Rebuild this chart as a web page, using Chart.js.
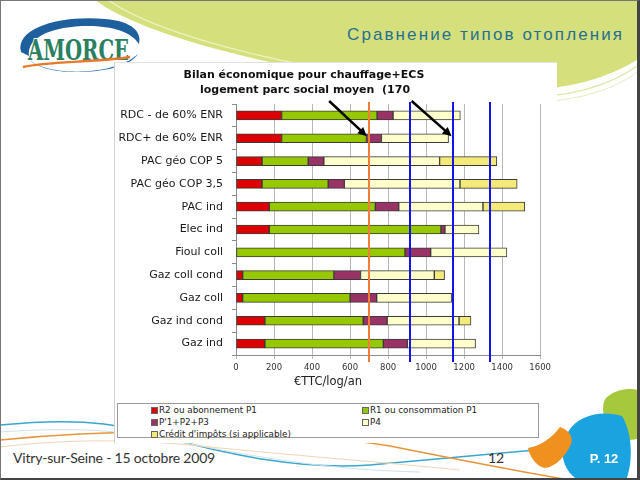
<!DOCTYPE html>
<html>
<head>
<meta charset="utf-8">
<script src="https://cdn.jsdelivr.net/npm/chart.js@4.4.0/dist/chart.umd.min.js"></script>
<style>
    body { margin: 0; background: #fff; }
    #slide { position: relative; width: 640px; height: 480px; overflow: hidden; background: #fff; }
    #deco, #badge, #frame { position: absolute; left: 0; top: 0; }
    #frame { width: 640px; height: 480px; box-sizing: border-box; border-top: 1px solid #777; border-left: 1px solid #777; border-right: 3px solid #444; border-bottom: 2px solid #444; pointer-events: none; }
    #slideTitle { position: absolute; left: 347px; top: 25px; font: 17px "Liberation Sans", Arial, sans-serif; letter-spacing: 2.1px; color: #26708f; white-space: nowrap; }
    #chartBox { position: absolute; left: 114px; top: 62px; width: 442px; height: 380px; background: #fff; border-left: 1px solid #cfcfcf; border-top: 1px solid #e2e2e2; }
    #chartBox canvas { position: absolute; left: 0; top: 0; }
    #legend { position: absolute; left: 117px; top: 403px; width: 422px; height: 35px; box-sizing: border-box; border: 1px solid #9a9a9a; background: #fff;
        display: grid; grid-template-columns: 211px 1fr; padding-left: 33px; font: 8.8px "DejaVu Sans", sans-serif; color: #222; line-height: 12px; }
    .legend-item { display: flex; align-items: center; white-space: nowrap; }
    .legend-box { width: 5px; height: 5px; border: 1px solid #666; margin-right: 1px; }
    #footer { position: absolute; left: 13px; top: 449px; font: 14px Lato, sans-serif; color: #333; letter-spacing: -0.2px; }
    #pageNum { position: absolute; left: 488px; top: 449px; font: 14px Lato, sans-serif; color: #333; }
</style>
</head>
<body>
<div id="slide">
    <svg id="deco" width="640" height="480">
        <!-- top swoosh -->
        <path d="M95,0 C140,35 300,80 480,90 C560,94 605,80 640,58 L640,0 Z" fill="#d5e07d"/>
        <path d="M108,0 C160,36 310,76 470,86" stroke="#eef3c8" stroke-width="1.2" fill="none"/>
        <path d="M640,64 C610,86 570,99 500,98" stroke="#dde7a8" stroke-width="1.2" fill="none"/>
        <path d="M640,70 C612,92 570,104 505,103" stroke="#e6edc0" stroke-width="1" fill="none"/>
        <!-- logo -->
        <path d="M21,52 C15,28 60,15 105,19 C132,21 142,32 139,44 C131,31 110,25 82,26 C46,28 27,39 29,56 Z" fill="#1e5f9e"/>
        <path d="M27,57 C40,76 112,78 138,54 C130,67 100,73 70,72 C50,71 33,66 27,57 Z" fill="#2a74b4"/>
        <text x="28" y="60" font-family="DejaVu Serif" font-weight="bold" font-size="27" fill="#2a8060" stroke="#ffffff" stroke-width="2" paint-order="stroke" textLength="101" lengthAdjust="spacingAndGlyphs">AMORCE</text>
        <path d="M23,67 C50,61 90,63 130,57" stroke="#e8782a" stroke-width="2.5" fill="none"/>
        <!-- bottom curves -->
        <path d="M0,425 C60,419 110,420 160,436 C230,455 300,470 370,465 C440,459 510,452 580,446" stroke="#3aa6d0" stroke-width="1.5" fill="none"/>
        <path d="M0,440 C50,435 100,432 160,432 C260,432 330,436 390,446 C450,458 510,470 570,480" stroke="#e8953a" stroke-width="1.5" fill="none"/>
        <path d="M0,432 C60,428 110,428 170,440 C260,458 330,470 420,472" stroke="#cfe3ea" stroke-width="1" fill="none"/>
        <path d="M0,447 C60,440 120,438 200,446 C300,456 380,462 460,470" stroke="#f3d6b4" stroke-width="1" fill="none"/>
    </svg>
    <div id="slideTitle">Сравнение типов отопления</div>
    <div id="chartBox"><canvas id="chart" width="440" height="335"></canvas></div>
    <div id="legend"></div>
    <div id="footer">Vitry-sur-Seine - 15 octobre 2009</div>
    <div id="pageNum">12</div>
    <svg id="badge" width="640" height="480">
        <path d="M606,398 C618,386 640,388 640,392 L640,438 C630,442 614,440 610,432 C604,420 600,406 606,398 Z" fill="#a6c83c"/>
        <path d="M568,432 C578,414 604,410 622,416 C634,436 632,466 626,480 L578,480 C562,470 558,450 568,432 Z" fill="#1ba3e0"/>
        <path d="M560,427 C568,430 574,436 571,444 C566,456 556,466 546,468 C538,468 530,458 528,448 C540,446 552,438 560,427 Z" fill="#f0901e"/>
        <text x="604" y="463" text-anchor="middle" font-family="Liberation Sans" font-weight="bold" font-size="13" fill="#fff">P. 12</text>
    </svg>
    <div id="frame"></div>
</div>
<script>
// Chart data
const categories = ['RDC - de 60% ENR', 'RDC+ de 60% ENR', 'PAC géo COP 5', 'PAC géo COP 3,5', 'PAC ind', 'Elec ind',
    'Fioul coll', 'Gaz coll cond', 'Gaz coll', 'Gaz ind cond', 'Gaz ind'];
const r2Abonnement = [240, 240, 137, 137, 175, 175, 0, 35, 35, 152, 152];
const r1Consommation = [502, 446, 243, 348, 558, 903, 889, 480, 565, 517, 623];
const p1p2p3 = [84, 79, 82, 85, 123, 21, 135, 140, 140, 126, 126];
const p4 = [354, 353, 609, 608, 443, 179, 401, 388, 394, 378, 359];
const creditImpots = [0, 0, 301, 301, 220, 0, 0, 54, 0, 63, 0];
const seriesNames = ['R2 ou abonnement P1', 'R1 ou consommation P1', "P'1+P2+P3", 'P4', "Crédit d'impôts (si applicable)"];
const seriesColors = ['#dd0000', '#96c800', '#993366', '#ffffcc', '#f3ea7a'];
const xMin = 0, xMax = 1600, xStep = 200;
const chartTitle = ['Bilan économique pour chauffage+ECS', 'logement parc social moyen  (170'];
const axisTitle = '€TTC/log/an';

// reference lines and arrows (x values)
const refLines = [700, 915, 1140, 1335];
const refColors = ['#f07d3a', '#1414e6', '#1414e6', '#1414e6'];
const arrowFrom = [490, 924];
const arrowTo = [688, 1134];
const arrowRow = 1;

const seriesData = [r2Abonnement, r1Consommation, p1p2p3, p4, creditImpots];

function drawArrow(ctx, x1, y1, x2, y2) {
    const ang = Math.atan2(y2 - y1, x2 - x1);
    const head = 10;
    ctx.beginPath();
    ctx.moveTo(x1, y1);
    ctx.lineTo(x2 - Math.cos(ang) * head * 0.7, y2 - Math.sin(ang) * head * 0.7);
    ctx.stroke();
    ctx.beginPath();
    ctx.moveTo(x2, y2);
    ctx.lineTo(x2 - head * Math.cos(ang - 0.45), y2 - head * Math.sin(ang - 0.45));
    ctx.lineTo(x2 - head * Math.cos(ang + 0.45), y2 - head * Math.sin(ang + 0.45));
    ctx.closePath();
    ctx.fill();
}

const overlay = {
    id: 'overlay',
    afterDatasetsDraw(chart) {
        const { ctx, chartArea, scales: { x, y } } = chart;
        ctx.save();
        refLines.forEach((v, i) => {
            const px = Math.round(x.getPixelForValue(v));
            ctx.strokeStyle = refColors[i];
            ctx.lineWidth = 2;
            ctx.beginPath();
            ctx.moveTo(px, chartArea.top - 2);
            ctx.lineTo(px, chartArea.bottom + 7);
            ctx.stroke();
        });
        ctx.strokeStyle = '#000';
        ctx.fillStyle = '#000';
        ctx.lineWidth = 2.5;
        arrowFrom.forEach((v, i) => {
            drawArrow(ctx, x.getPixelForValue(v), chartArea.top - 3,
                x.getPixelForValue(arrowTo[i]), y.getPixelForValue(arrowRow) - 2);
        });
        ctx.restore();
    },
    afterDraw(chart) {
        const ctx = chart.ctx;
        ctx.save();
        ctx.textAlign = 'center';
        ctx.textBaseline = 'middle';
        ctx.fillStyle = '#111';
        ctx.font = 'bold 11px "DejaVu Sans"';
        ctx.fillText(chartTitle[0], 189, 12);
        ctx.fillText(chartTitle[1], 190, 27);
        ctx.fillStyle = '#222';
        ctx.font = '11.5px "DejaVu Sans"';
        ctx.fillText(axisTitle, 213, 319);
        ctx.restore();
    }
};

new Chart(document.getElementById('chart'), {
    type: 'bar',
    data: {
        labels: categories,
        datasets: seriesData.map((d, i) => ({
            label: seriesNames[i],
            data: d,
            backgroundColor: seriesColors[i],
            borderColor: '#3a3a3a',
            borderWidth: 1,
            borderSkipped: false,
            barThickness: 9
        }))
    },
    options: {
        indexAxis: 'y',
        responsive: false,
        animation: false,
        layout: { padding: { top: 41, right: 14, bottom: 3, left: 0 } },
        plugins: { legend: { display: false }, title: { display: false }, tooltip: { enabled: false } },
        scales: {
            x: {
                stacked: true,
                min: xMin,
                max: xMax,
                ticks: { stepSize: xStep, padding: 4, color: '#333', font: { family: 'DejaVu Sans', size: 8.5 },
                    callback: v => String(v) },
                grid: { color: '#b8b8b8', tickLength: 4 },
                border: { color: '#8c8c8c' },
                afterFit: s => { s.height = 40; }
            },
            y: {
                stacked: true,
                ticks: { padding: 9, color: '#1a1a1a', font: { family: 'DejaVu Sans', size: 11 } },
                grid: { drawOnChartArea: false, tickLength: 4, color: '#8c8c8c' },
                border: { color: '#8c8c8c' },
                afterFit: s => { s.width = 121; }
            }
        }
    },
    plugins: [overlay]
});

// HTML legend
const legendEl = document.getElementById('legend');
seriesNames.forEach((name, i) => {
    legendEl.insertAdjacentHTML('beforeend',
        `<div class="legend-item"><span class="legend-box" style="background:${seriesColors[i]}"></span>${name}</div>`);
});
</script>
</body>
</html>
